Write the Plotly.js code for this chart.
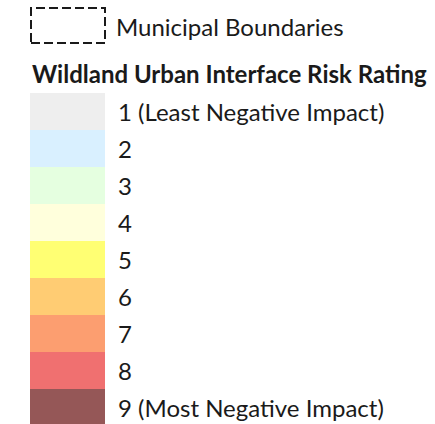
<!DOCTYPE html>
<html>
<head>
<meta charset="utf-8">
<script src="https://cdn.plot.ly/plotly-3.0.1.min.js"></script>
<style>html,body{margin:0;padding:0;background:#fff;}#chart{width:435px;height:424px;}</style>
</head>
<body>
<div id="chart"></div>
<script>
const ratings = ["1", "2", "3", "4", "5", "6", "7", "8", "9"];
const ratingLabels = ["1 (Least Negative Impact)", "2", "3", "4", "5", "6", "7", "8", "9 (Most Negative Impact)"];
const ratingColors = ["#EEEEEE", "#D9F0FF", "#E5FFE0", "#FFFFDC", "#FFFF73", "#FFCC73", "#FC9E70", "#F07070", "#955757"];
const boundaryLabel = "Municipal Boundaries";
const legendTitle = "Wildland Urban Interface Risk Rating";

const FONT = "Lato, 'Noto Sans', sans-serif";
const W = 435, H = 424;

const barTrace = {
  type: "bar",
  orientation: "h",
  y: ratings,
  x: ratings.map(() => 75),
  base: 30,
  width: 1,
  marker: { color: ratingColors, line: { width: 0 } },
  hoverinfo: "skip",
  showlegend: false
};

const annotations = ratings.map((r, i) => ({
  xref: "x", yref: "y",
  x: 116, y: i,
  xanchor: "left", yanchor: "middle",
  text: ratingLabels[i],
  showarrow: false,
  font: { family: FONT, size: 24, color: "#1a1a1a" }
}));

annotations.push({
  xref: "x", yref: "paper",
  x: 114, y: 1 - 26 / H,
  xanchor: "left", yanchor: "middle",
  text: boundaryLabel,
  showarrow: false,
  font: { family: FONT, size: 24, color: "#1a1a1a" }
});
annotations.push({
  xref: "x", yref: "paper",
  x: 30, y: 1 - 73 / H,
  xanchor: "left", yanchor: "middle",
  text: "<b>" + legendTitle + "</b>",
  showarrow: false,
  font: { family: FONT, size: 24, color: "#1a1a1a" }
});

const layout = {
  width: W, height: H,
  margin: { l: 0, r: 0, t: 0, b: 0, pad: 0 },
  paper_bgcolor: "#ffffff",
  plot_bgcolor: "#ffffff",
  showlegend: false,
  xaxis: { range: [0, W], visible: false, fixedrange: true },
  yaxis: {
    type: "category",
    categoryorder: "array",
    categoryarray: ratings,
    range: [(H - 111.5) / 37, -111.5 / 37],
    visible: false, fixedrange: true
  },
  bargap: 0,
  shapes: [{
    type: "rect", xref: "x", yref: "paper",
    x0: 31, x1: 105, y0: 1 - 43 / H, y1: 1 - 8 / H,
    line: { color: "#1a1a1a", width: 2, dash: "9px,4px" },
    fillcolor: "rgba(0,0,0,0)"
  }],
  annotations: annotations
};

Plotly.newPlot("chart", [barTrace], layout, { displayModeBar: false, staticPlot: true });
</script>
</body>
</html>
